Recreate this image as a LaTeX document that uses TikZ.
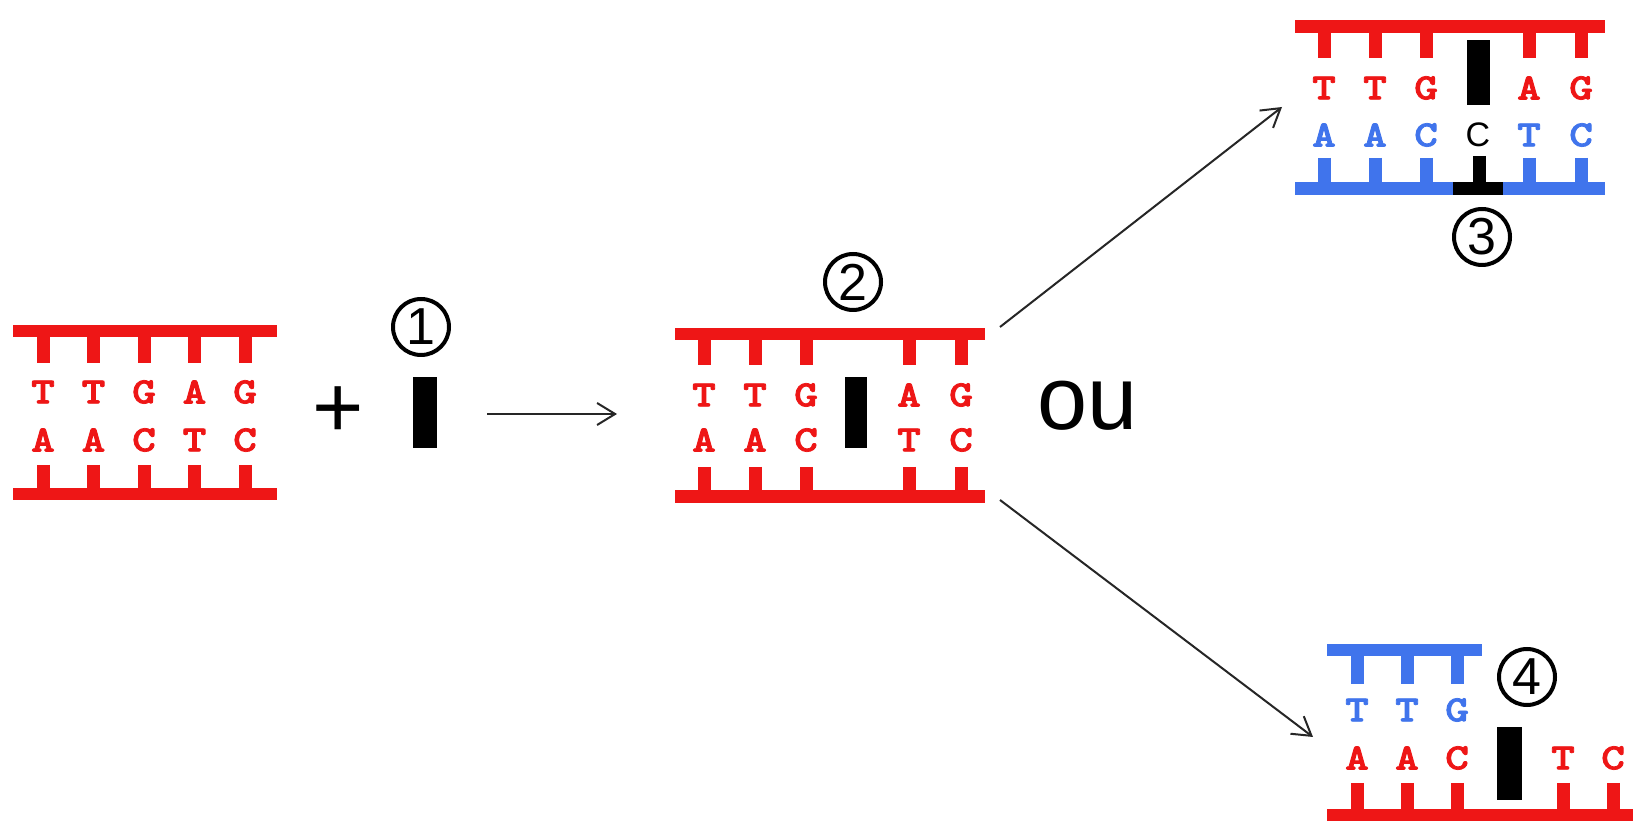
\documentclass[tikz,border=0pt]{standalone}
\usepackage{fontspec}
\usepackage{graphicx}
\setmainfont{Liberation Sans}
\newfontfamily\basefont{lmmonolt10-bold}[Extension=.otf, FakeBold=2]
\usetikzlibrary{arrows.meta}
\definecolor{dnared}{RGB}{238,22,22}
\definecolor{dnablue}{RGB}{64,116,236}
\newcommand{\nuc}[1]{\scalebox{1.22}[1]{#1}}
\begin{document}
\begin{tikzpicture}[x=0.5pt,y=-0.5pt,
  strand/.style={line width=6.4pt},
  rung/.style={line width=6.5pt},
  base/.style={font=\basefont\fontsize{18.5}{18.5}\selectfont, inner sep=0pt},
  ligand/.style={fill=black, draw=none},
  circled/.style={circle, draw, line width=2pt, minimum size=28pt, inner sep=0pt,
    font=\fontsize{26}{26}\selectfont},
  conn/.style={draw=black!85, line width=1pt,
    -{Straight Barb[length=9pt,width=11pt,line width=1pt]}}]
\useasboundingbox[fill=white] (0,0) rectangle (1633,822);

% ---- free duplex ----
\draw[strand, dnared] (13,331) -- (277,331);
\draw[strand, dnared] (13,494) -- (277,494);
\foreach \x/\t/\b [count=\i] in {43/T/A, 93.5/T/A, 144/G/C, 194.5/A/T, 245/G/C} {
  \draw[rung, dnared] (\x,331) -- (\x,363);
  \draw[rung, dnared] (\x,465) -- (\x,494);
  \node[base, text=dnared] (d1t\i) at (\x,392) {\nuc{\t}};
  \node[base, text=dnared] (d1b\i) at (\x,440) {\nuc{\b}};
}
\node[font=\fontsize{44}{44}\selectfont, inner sep=0pt] (plus) at (338,412) {+};
\node[circled] (n1) at (421,327) {1};
\fill[ligand] (413,377) rectangle (437,448);
\coordinate (a1s) at (487,414);
\coordinate (a1e) at (617,414);
\draw[conn] (a1s) -- (a1e);

% ---- intercalated duplex ----
\draw[strand, dnared] (675,334) -- (985,334);
\draw[strand, dnared] (675,496.5) -- (985,496.5);
\foreach \x/\t/\b [count=\i] in {704/T/A, 755/T/A, 806/G/C, 909/A/T, 961/G/C} {
  \draw[rung, dnared] (\x,334) -- (\x,365);
  \draw[rung, dnared] (\x,467) -- (\x,496.5);
  \node[base, text=dnared] (d2t\i) at (\x,395) {\nuc{\t}};
  \node[base, text=dnared] (d2b\i) at (\x,440) {\nuc{\b}};
}
\fill[ligand] (845,377) rectangle (867,448);
\node[circled] (n2) at (853,282) {2};
\node[font=\fontsize{45}{45}\selectfont, inner sep=0pt] (ou) at (1088,406) {ou};
\coordinate (a2s) at (1000,327);
\coordinate (a2e) at (1282,107);
\coordinate (a3s) at (1000,500);
\coordinate (a3e) at (1313,737);
\draw[conn] (a2s) -- (a2e);
\draw[conn] (a3s) -- (a3e);

% ---- substitution on the copied strand ----
\draw[strand, dnared] (1295,26.5) -- (1605,26.5);
\draw[strand, dnablue] (1295,188.5) -- (1605,188.5);
\foreach \x/\t/\b [count=\i] in {1324/T/A, 1375/T/A, 1426/G/C, 1529/A/T, 1581/G/C} {
  \draw[rung, dnared] (\x,26.5) -- (\x,58);
  \draw[rung, dnablue] (\x,158) -- (\x,188.5);
  \node[base, text=dnared] (d3t\i) at (\x,88) {\nuc{\t}};
  \node[base, text=dnablue] (d3b\i) at (\x,135) {\nuc{\b}};
}
\fill[ligand] (1467,40) rectangle (1490,105);
\node[font=\fontsize{17}{17}\selectfont, inner sep=0pt] (d3c) at (1478,135) {C};
\draw[rung, black] (1479,156) -- (1479,188.5);
\draw[strand, black] (1453,188.5) -- (1503,188.5);
\node[circled] (n3) at (1482,237) {3};

% ---- frameshift on the copied strand ----
\draw[strand, dnablue] (1327,650) -- (1482,650);
\foreach \x/\t [count=\i] in {1357/T, 1407/T, 1457/G} {
  \draw[rung, dnablue] (\x,650) -- (\x,684);
  \node[base, text=dnablue] (d4t\i) at (\x,710) {\nuc{\t}};
}
\draw[strand, dnared] (1327,815) -- (1640,815);
\foreach \x/\b [count=\i] in {1357/A, 1407/A, 1457/C, 1563/T, 1613/C} {
  \draw[rung, dnared] (\x,783) -- (\x,815);
  \node[base, text=dnared] (d4b\i) at (\x,758) {\nuc{\b}};
}
\fill[ligand] (1497,727) rectangle (1522,800);
\node[circled] (n4) at (1527,677) {4};
\end{tikzpicture}
\end{document}
